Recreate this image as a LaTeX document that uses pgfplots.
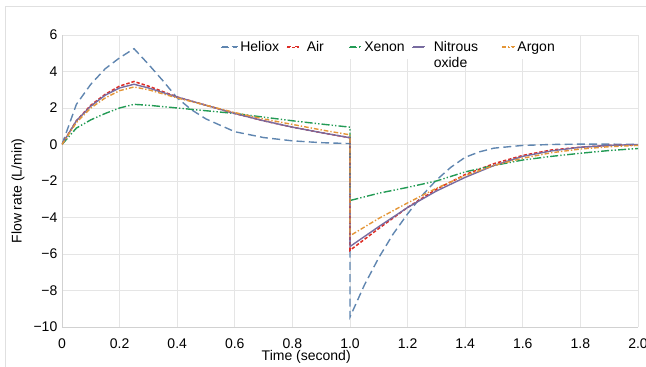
\documentclass[border=0pt]{standalone}
\usepackage{pgfplots}
\pgfplotsset{compat=1.18}
\usepackage{fontspec}
\setmainfont{Liberation Sans}
\definecolor{cHel}{RGB}{96,134,176}
\definecolor{cAir}{RGB}{222,45,38}
\definecolor{cXen}{RGB}{35,155,85}
\definecolor{cNit}{RGB}{120,108,160}
\definecolor{cArg}{RGB}{228,150,55}
\tikzset{
  sHel/.style={draw=cHel, color=cHel, line width=1.05pt, dash pattern=on 6pt off 3.2pt},
  sAir/.style={draw=cAir, color=cAir, line width=1.15pt, dash pattern=on 2.5pt off 1.5pt},
  sXen/.style={draw=cXen, color=cXen, line width=1.05pt, dash pattern=on 6pt off 1.6pt on 1pt off 1.6pt on 1pt off 1.6pt},
  sNit/.style={draw=cNit, color=cNit, line width=1.05pt, solid},
  sArg/.style={draw=cArg, color=cArg, line width=1.05pt, dash pattern=on 3.5pt off 1.5pt on 1pt off 1.5pt},
}
\newcommand{\ds}[1]{\rule{#1}{1pt}}
\newcommand{\keynode}[2]{\node[inner sep=0pt, anchor=west] at (0pt,0pt) {\textcolor{#1}{#2}};}
\begin{document}
\begin{tikzpicture}
\useasboundingbox (0,0) rectangle (484.5pt,275.25pt);
\draw[black!12] (3.75pt,0pt) -- (3.75pt,270.75pt) -- (484.5pt,270.75pt);
\begin{axis}[
  at={(46.5pt,30pt)}, anchor=south west,
  scale only axis, width=432pt, height=219pt,
  xmin=0, xmax=2, ymin=-10, ymax=6,
  xtick={0,0.2,0.4,0.6,0.8,1.0,1.2,1.4,1.6,1.8,2.0},
  xticklabels={0,0.2,0.4,0.6,0.8,1.0,1.2,1.4,1.6,1.8,2.0},
  ytick={-10,-8,-6,-4,-2,0,2,4,6},
  yticklabels={−10,−8,−6,−4,−2,0,2,4,6},
  major tick length=0pt,
  grid=major,
  grid style={black!10, line width=0.5pt},
  axis line style={black!18},
  axis x line*=bottom, axis y line*=left,
  tick label style={font=\fontsize{10.5}{12}\selectfont},
  xticklabel style={yshift=-5pt},
  xlabel={Time (second)},
  ylabel={Flow rate (L/min)},
  label style={font=\fontsize{10.5}{12}\selectfont},
  xlabel style={at={(axis description cs:0.424,0)}, anchor=center, yshift=-22.5pt},
  ylabel style={at={(axis description cs:-0.0764,0.466)}, anchor=center},
  legend columns=5,
  legend cell align=left,
  legend style={at={(axis description cs:0.272,0.995)}, anchor=north west,
    draw=white, fill=white, inner sep=1pt,
    font=\fontsize{10.5}{12}\selectfont,
    /tikz/every even column/.append style={column sep=3pt}},
]
\addplot[sHel, legend image code/.code={\path (0pt,0pt) -- (12pt,0pt); \keynode{cHel}{\ds{4.5pt}\hspace{3pt}\ds{4.5pt}}}] coordinates {
(0,0) (0.05,2.2) (0.1,3.3) (0.15,4.15) (0.2,4.75) (0.25,5.25) (0.3,4.4) (0.35,3.5) (0.4,2.55) (0.45,1.9) (0.5,1.4) (0.6,0.7) (0.7,0.38) (0.8,0.2) (0.9,0.1) (1.0,0.05)
(1.0,-9.45) (1.05,-7.7) (1.1,-6.2) (1.15,-4.9) (1.2,-3.8) (1.25,-2.8) (1.3,-1.95) (1.35,-1.25) (1.4,-0.7) (1.45,-0.4) (1.5,-0.2) (1.6,-0.05) (1.7,0.0) (1.8,0.02) (1.9,0.02) (2.0,0.0)};
\addlegendentry{Heliox}
\addplot[sAir, legend image code/.code={\path (0pt,0pt) -- (9pt,0pt); \keynode{cAir}{\ds{3pt}\hspace{3pt}\ds{3pt}}}] coordinates {
(0,0) (0.05,1.3) (0.1,2.15) (0.15,2.75) (0.2,3.2) (0.25,3.45) (0.3,3.2) (0.4,2.6) (0.5,2.15) (0.6,1.7) (0.7,1.3) (0.8,0.95) (0.9,0.65) (1.0,0.37)
(1.0,-5.8) (1.1,-4.6) (1.2,-3.45) (1.3,-2.45) (1.4,-1.65) (1.5,-1.05) (1.6,-0.6) (1.7,-0.3) (1.8,-0.15) (1.9,-0.05) (2.0,-0.02)};
\addlegendentry{\mbox{}\hspace{3.5pt}Air\hspace{13.25pt}\mbox{}}
\addplot[sXen, legend image code/.code={\path (0pt,0pt) -- (9pt,0pt); \keynode{cXen}{\ds{5pt}\hspace{2pt}\ds{1.3pt}}}] coordinates {
(0,0) (0.05,0.9) (0.1,1.35) (0.15,1.7) (0.2,2.0) (0.25,2.2) (0.3,2.15) (0.4,2.0) (0.5,1.85) (0.6,1.7) (0.7,1.5) (0.8,1.3) (0.9,1.12) (1.0,0.95)
(1.0,-3.07) (1.1,-2.67) (1.2,-2.35) (1.3,-2.0) (1.4,-1.5) (1.5,-1.15) (1.6,-0.85) (1.7,-0.65) (1.8,-0.48) (1.9,-0.33) (2.0,-0.22)};
\addlegendentry{Xenon\hspace{0.25pt}\mbox{}}
\addplot[sNit, legend image code/.code={\path (0pt,0pt) -- (9pt,0pt); \keynode{cNit}{\ds{9pt}}}] coordinates {
(0,0) (0.05,1.3) (0.1,2.1) (0.15,2.7) (0.2,3.1) (0.25,3.3) (0.3,3.1) (0.4,2.6) (0.5,2.15) (0.6,1.7) (0.7,1.3) (0.8,0.95) (0.9,0.65) (1.0,0.37)
(1.0,-5.59) (1.1,-4.5) (1.2,-3.45) (1.3,-2.55) (1.4,-1.8) (1.5,-1.15) (1.6,-0.65) (1.7,-0.35) (1.8,-0.15) (1.9,-0.05) (2.0,0.0)};
\addlegendentry{\mbox{}\hspace{4.5pt}\begin{tabular}[t]{@{}l@{}}Nitrous\\oxide\end{tabular}\hspace{12pt}\mbox{}}
\addplot[sArg, legend image code/.code={\path (0pt,0pt) -- (9pt,0pt); \keynode{cArg}{\ds{3pt}\hspace{1.2pt}\ds{1pt}\hspace{1.2pt}\ds{3pt}}}] coordinates {
(0,0) (0.05,1.2) (0.1,2.0) (0.15,2.55) (0.2,2.95) (0.25,3.15) (0.3,3.0) (0.4,2.55) (0.5,2.15) (0.6,1.75) (0.7,1.4) (0.8,1.1) (0.9,0.8) (1.0,0.53)
(1.0,-5.0) (1.1,-4.05) (1.2,-3.2) (1.3,-2.4) (1.4,-1.7) (1.5,-1.15) (1.6,-0.75) (1.7,-0.45) (1.8,-0.25) (1.9,-0.12) (2.0,-0.05)};
\addlegendentry{Argon}
\end{axis}
\end{tikzpicture}
\end{document}
